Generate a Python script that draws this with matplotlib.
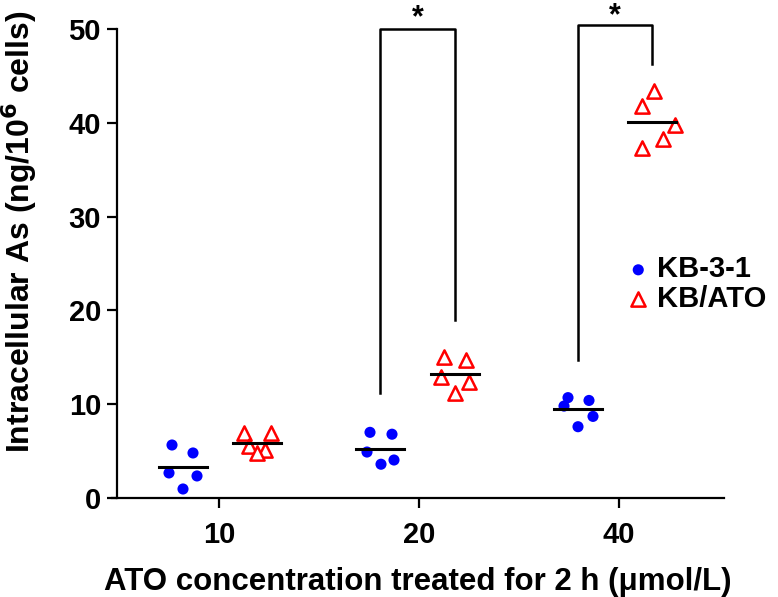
import matplotlib
matplotlib.use('Agg')
import matplotlib.pyplot as plt
import numpy as np

plt.rcParams['font.family'] = ['Liberation Sans', 'DejaVu Sans']

# data
doses = ['10', '20', '40']
kb31 = [[5.65, 4.8, 2.67, 2.35, 0.96],
        [7.0, 6.8, 4.9, 4.05, 3.6],
        [10.7, 10.4, 9.8, 8.7, 7.6]]
kbato = [[6.9, 6.9, 5.5, 5.1, 4.8],
         [15.0, 14.7, 12.9, 12.4, 11.2],
         [43.4, 41.8, 39.8, 38.3, 37.3]]
# horizontal spread of the points inside each group (as drawn)
spread31 = [[-0.055, 0.05, -0.07, 0.07, 0.0],
            [-0.05, 0.06, -0.065, 0.07, 0.005],
            [-0.05, 0.055, -0.07, 0.075, 0.0]]
spreadato = [[-0.065, 0.07, -0.04, 0.04, 0.0],
             [-0.055, 0.055, -0.07, 0.07, 0.0],
             [0.01, -0.05, 0.115, 0.055, -0.05]]

off31 = [-0.18, -0.195, -0.205]
offato = [0.19, 0.18, 0.165]

fig = plt.figure(figsize=(7.78, 5.97), dpi=100)
W, H = 778, 597
ax = fig.add_axes([112 / W, 1 - 498 / H, (724 - 112) / W, (498 - 29) / H])
ax.set_xlim(-0.535, 2.525)
ax.set_ylim(0, 50)

x = np.arange(len(doses))
for i in range(len(doses)):
    xb = x[i] + off31[i] + np.array(spread31[i])
    xr = x[i] + offato[i] + np.array(spreadato[i])
    ax.scatter(xb, kb31[i], s=64, color='#0000ff', edgecolors='none', zorder=3,
               label='KB-3-1' if i == 0 else None)
    ax.scatter(xr, kbato[i], s=105, marker='^', facecolors='white',
               edgecolors='#ff0000', linewidths=1.8, zorder=3,
               label='KB/ATO' if i == 0 else None)
    mb = np.mean(kb31[i])
    mr = np.mean(kbato[i])
    ax.plot([x[i] + off31[i] - 0.12, x[i] + off31[i] + 0.12], [mb, mb],
            color='black', lw=2.2, zorder=4)
    ax.plot([x[i] + offato[i] - 0.12, x[i] + offato[i] + 0.12], [mr, mr],
            color='black', lw=2.2, zorder=4)

# significance brackets
brackets = [(1, 11.2, 19.0, 50.0, 51.1), (2, 14.7, 46.3, 50.4, 51.4)]
for i, yl, yr, ytop, ystar in brackets:
    xl = x[i] + off31[i]
    xr = x[i] + offato[i]
    ax.plot([xl, xl, xr, xr], [yl, ytop, ytop, yr], color='black', lw=1.8,
            clip_on=False, zorder=2)
    ax.text((xl + xr) / 2, ystar, '*', ha='center', va='center',
            fontsize=22, fontweight='bold')

for s in ['top', 'right']:
    ax.spines[s].set_visible(False)
ax.spines['left'].set_position(('data', -0.51))
for s in ['left', 'bottom']:
    ax.spines[s].set_linewidth(1.6)

ax.set_xticks(x)
ax.set_xticklabels(doses)
ax.set_yticks(np.arange(0, 51, 10))
ax.tick_params(axis='both', direction='out', length=7.5, width=1.6,
               labelsize=21, pad=4)
for lab in ax.get_xticklabels() + ax.get_yticklabels():
    lab.set_fontweight('bold')
ax.tick_params(axis='x', pad=9)

ax.set_xlabel('ATO concentration treated for 2 h (μmol/L)', fontsize=22.5,
              fontweight='bold', labelpad=13)
ax.set_ylabel('Intracellular As (ng/10$^{\\mathbf{6}}$ cells)', fontsize=23,
              fontweight='bold')
ax.yaxis.set_label_coords(-0.12, 0.567)

leg = ax.legend(loc='upper left', bbox_to_anchor=(0.817, 0.542), frameon=False,
                fontsize=21, handletextpad=0.15, labelspacing=0.05,
                borderaxespad=0, handlelength=1.0, scatterpoints=1)
for t in leg.get_texts():
    t.set_fontweight('bold')

fig.savefig('out.png', dpi=100)
